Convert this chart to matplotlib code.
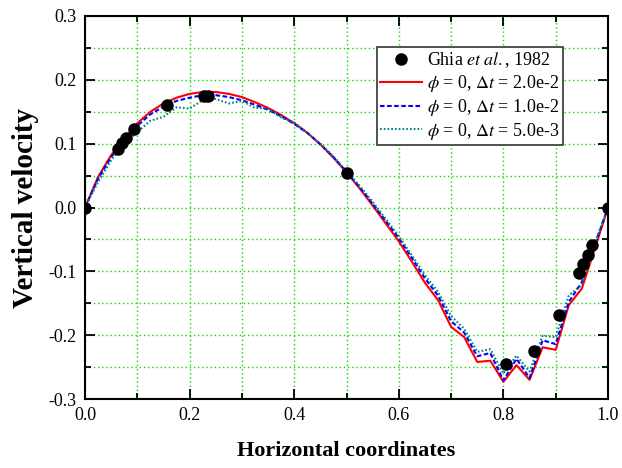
import matplotlib
matplotlib.use("Agg")
import matplotlib.pyplot as plt
from matplotlib.ticker import MultipleLocator, FormatStrFormatter

plt.rcParams['font.family'] = ['Liberation Serif', 'DejaVu Serif']
plt.rcParams['mathtext.fontset'] = 'stix'

# Benchmark: Ghia et al. (1982), v-velocity along the horizontal centreline
ghia_x = [1.0000, 0.9688, 0.9609, 0.9531, 0.9453, 0.9063, 0.8594, 0.8047,
          0.5000, 0.2344, 0.2266, 0.1563, 0.0938, 0.0781, 0.0703, 0.0625, 0.0000]
ghia_v = [0.00000, -0.05906, -0.07391, -0.08864, -0.10313, -0.16914, -0.22445,
          -0.24533, 0.05454, 0.17527, 0.17507, 0.16077, 0.12317, 0.10890,
          0.10091, 0.09233, 0.00000]

# Simulation sample positions
sim_x = [0.000, 0.025, 0.050, 0.075, 0.100, 0.125, 0.150, 0.175, 0.200, 0.225,
         0.250, 0.275, 0.300, 0.325, 0.350, 0.375, 0.400, 0.425, 0.450, 0.475,
         0.500, 0.525, 0.550, 0.575, 0.600, 0.625, 0.650, 0.675, 0.700, 0.725,
         0.750, 0.775, 0.800, 0.825, 0.850, 0.875, 0.900, 0.925, 0.950, 0.975,
         1.000]

v_dt_2e2 = [0.000, 0.048, 0.082, 0.108, 0.132, 0.150, 0.163, 0.172, 0.178, 0.181,
            0.181, 0.178, 0.173, 0.165, 0.156, 0.145, 0.132, 0.117, 0.099, 0.078,
            0.055, 0.030, 0.003, -0.025, -0.053, -0.085, -0.118, -0.145, -0.187, -0.203,
            -0.242, -0.240, -0.273, -0.247, -0.270, -0.219, -0.223, -0.153, -0.127, -0.064,
            0.000]

v_dt_1e2 = [0.000, 0.045, 0.079, 0.105, 0.128, 0.146, 0.158, 0.167, 0.172, 0.176,
            0.176, 0.173, 0.168, 0.161, 0.153, 0.143, 0.131, 0.117, 0.099, 0.079,
            0.056, 0.032, 0.006, -0.021, -0.048, -0.079, -0.111, -0.138, -0.178, -0.196,
            -0.233, -0.228, -0.271, -0.237, -0.267, -0.208, -0.214, -0.148, -0.117, -0.058,
            0.000]

v_dt_5e3 = [0.000, 0.040, 0.074, 0.100, 0.118, 0.136, 0.142, 0.157, 0.155, 0.168,
            0.170, 0.163, 0.167, 0.156, 0.155, 0.141, 0.133, 0.117, 0.100, 0.080,
            0.057, 0.034, 0.009, -0.018, -0.045, -0.075, -0.106, -0.132, -0.170, -0.190,
            -0.226, -0.222, -0.260, -0.232, -0.257, -0.201, -0.203, -0.138, -0.121, -0.055,
            0.000]

x_ticks = [0.0, 0.2, 0.4, 0.6, 0.8, 1.0]
y_ticks = [-0.3, -0.2, -0.1, 0.0, 0.1, 0.2, 0.3]

fig = plt.figure(figsize=(6.22, 4.68), dpi=100)
ax = fig.add_axes([85 / 622, 1 - 399 / 468, 523 / 622, 383 / 468])

ax.plot(sim_x, v_dt_2e2, color='#ff0000', lw=1.5, zorder=3,
        label=r'$\phi$ = 0, $\Delta t$ = 2.0e-2')
ax.plot(sim_x, v_dt_1e2, color='#0000ff', lw=1.5, ls=(0, (2.2, 1.2)), zorder=4,
        label=r'$\phi$ = 0, $\Delta t$ = 1.0e-2')
ax.plot(sim_x, v_dt_5e3, color='#008080', lw=1.5, ls=(0, (0.8, 1.0)), zorder=5,
        label=r'$\phi$ = 0, $\Delta t$ = 5.0e-3')
ax.plot(ghia_x, ghia_v, ls='none', marker='o', ms=8, color='black', zorder=6,
        label=r'Ghia $\mathit{et\ al.}$, 1982')

ax.set_xlim(0, 1)
ax.set_ylim(-0.3, 0.3)
ax.set_xticks(x_ticks)
ax.set_yticks(y_ticks)
ax.xaxis.set_minor_locator(MultipleLocator(0.1))
ax.yaxis.set_minor_locator(MultipleLocator(0.05))
ax.xaxis.set_major_formatter(FormatStrFormatter('%.1f'))
ax.yaxis.set_major_formatter(FormatStrFormatter('%.1f'))

ax.grid(True, which='both', color='#00e000', ls=(0, (1, 2)), lw=1.0, zorder=0)
ax.tick_params(which='both', direction='in', top=True, right=True,
               width=1.3, labelsize=13, colors='black')
ax.tick_params(which='major', length=7)
ax.tick_params(axis='x', which='major', pad=6)
ax.tick_params(axis='y', which='major', pad=6)
ax.tick_params(which='minor', length=4)
for s in ax.spines.values():
    s.set_linewidth(1.5)

ax.set_xlabel('Horizontal coordinates', fontsize=16, fontweight='bold', labelpad=12)
ax.set_ylabel('Vertical velocity', fontsize=21, fontweight='bold', labelpad=7)

handles, labels = ax.get_legend_handles_labels()
order = [3, 0, 1, 2]
leg = ax.legend([handles[i] for i in order], [labels[i] for i in order],
                loc='upper right', bbox_to_anchor=(0.914, 0.919),
                borderaxespad=0, fontsize=13, frameon=True, fancybox=False,
                edgecolor='#333333', framealpha=1, handlelength=2.3,
                handletextpad=0.3, borderpad=0.2, labelspacing=0.15)
leg.get_frame().set_linewidth(1.2)

fig.savefig('out.png', dpi=100)
